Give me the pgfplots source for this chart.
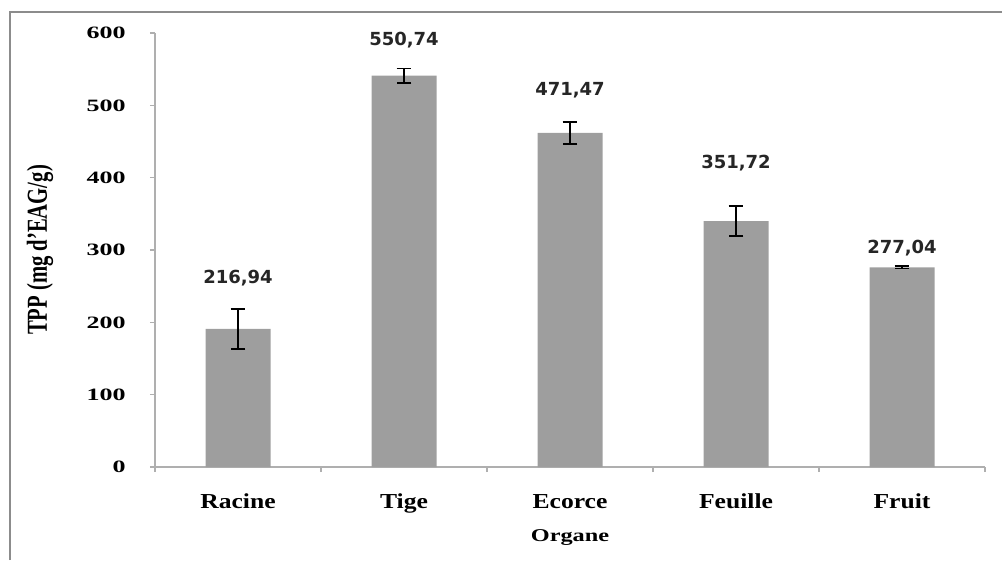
\documentclass[border=0pt]{standalone}
\usepackage{fontspec}
\setmainfont{Liberation Serif}
\newfontfamily\dejavu{DejaVu Sans}
\usepackage{graphicx}
\usepackage{pgfplots}
\usepackage{pgfplotstable}
\pgfplotsset{compat=1.18}
\definecolor{barfill}{RGB}{158,158,158}
\definecolor{axgray}{RGB}{175,175,175}
\definecolor{framegray}{RGB}{140,140,140}

\pgfplotstableread{
x y err
0 190.8 28
1 541.0 10
2 462.0 15
3 340.0 21
4 276.0 1.5
}\bars

\pgfplotstableread{
x ly lab
0 261 216,94
1 590 550,74
2 521 471,47
3 420 351,72
4 303 277,04
}\labels

\begin{document}
\begin{tikzpicture}
\path[use as bounding box] (0,0) rectangle (751.5pt,-422.25pt);
\draw[framegray, line width=2.2pt] (7.5pt,-420pt) -- (7.5pt,-9pt) -- (751.5pt,-9pt);
\begin{axis}[
  at={(116.25pt,-350.25pt)}, anchor=south west,
  scale only axis,
  width=622.5pt, height=325.5pt,
  xmin=-0.5, xmax=4.5, ymin=0, ymax=600,
  clip=false,
  axis x line*=bottom, axis y line*=left,
  axis line style={draw=axgray, line width=1pt},
  tick align=outside,
  major tick length=3.75pt,
  tick style={draw=axgray, line width=0.8pt},
  ytick={0,100,...,600},
  /pgf/number format/assume math mode=true,
  yticklabel style={font=\bfseries\fontsize{13}{13}\selectfont, xscale=1.5, anchor=east, inner sep=0pt, xshift=-12pt},
  xtick={0,1,2,3,4},
  xticklabels={Racine,Tige,Ecorce,Feuille,Fruit},
  xtick style={draw=none},
  xticklabel style={font=\bfseries\fontsize{16}{16}\selectfont, xscale=1.2, anchor=base, yshift=-27pt},
  extra x ticks={-0.5,0.5,1.5,2.5,3.5,4.5},
  extra x tick labels={},
  extra x tick style={xtick style={draw=axgray, line width=0.8pt}},
  xlabel={Organe},
  xlabel style={font=\bfseries\fontsize{13.5}{13.5}\selectfont, xscale=1.35, at={(axis description cs:0.5,-0.163)}, anchor=center},
  ylabel={TPP (mg d'EAG/g)},
  ylabel style={font=\bfseries\fontsize{15.5}{15.5}\selectfont, at={(axis description cs:-0.1386,0.5)}, anchor=center, yscale=1.4},
]
\addplot[ybar, bar width=48.75pt, fill=barfill, draw=none,
  error bars/.cd, y dir=both, y explicit,
  error bar style={black, line width=1.3pt},
  error mark options={black, rotate=90, mark size=5.5pt, line width=1.3pt}]
  table[x=x, y=y, y error=err] {\bars};
\addplot[only marks, mark=none, point meta=explicit symbolic,
  nodes near coords,
  every node near coord/.append style={anchor=center, font=\dejavu\bfseries\fontsize{13.5}{13.5}\selectfont, text=black!85}]
  table[x=x, y=ly, meta=lab] {\labels};
\end{axis}
\end{tikzpicture}
\end{document}
